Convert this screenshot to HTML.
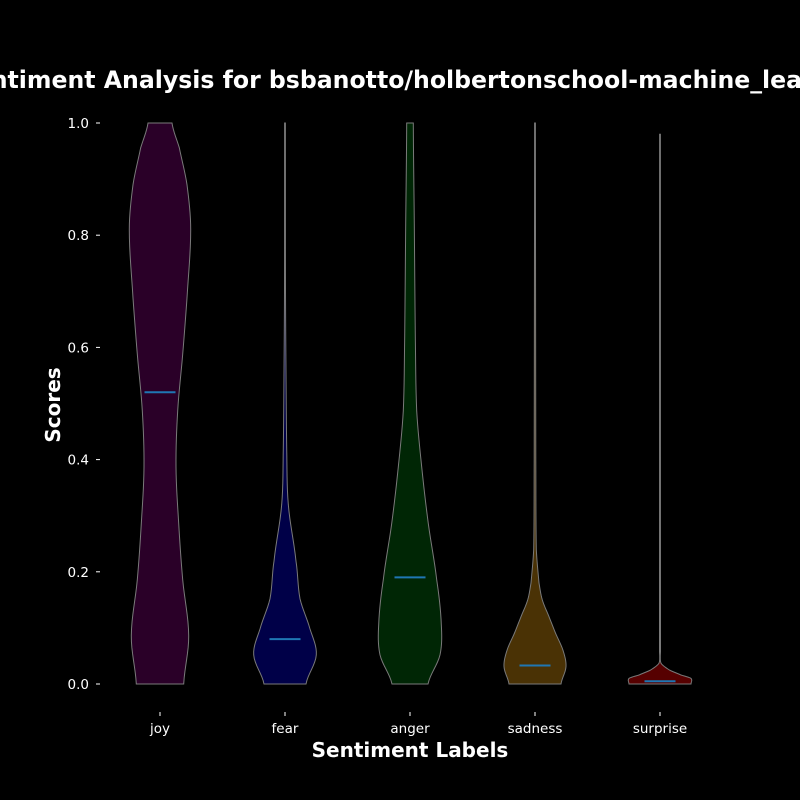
<!DOCTYPE html>
<html><head><meta charset="utf-8"><style>
html,body{margin:0;padding:0;background:#000;}
svg{display:block;font-family:"DejaVu Sans","Liberation Sans",sans-serif;}
</style></head><body>
<svg id="chart" width="800" height="800" viewBox="0 0 800 800">
<rect width="800" height="800" fill="#000"/>
<text x="415" y="88" text-anchor="middle" font-size="23.6" font-weight="bold" fill="#fff">Sentiment Analysis for bsbanotto/holbertonschool-machine_learning</text>
<text transform="translate(60,405) rotate(-90)" text-anchor="middle" font-size="20" font-weight="bold" fill="#fff">Scores</text>
<text x="410" y="757" text-anchor="middle" font-size="20" font-weight="bold" fill="#fff">Sentiment Labels</text>
<g id="axes"></g>
<g id="violins"></g>
</svg>
<script>
const categories = ["joy","fear","anger","sadness","surprise"];
const fills = ["#2a0028","#000048","#002605","#4a3205","#560000"];
const means = [0.52,0.08,0.19,0.033,0.005];
const yTicks = [0,0.2,0.4,0.6,0.8,1.0];
const yTickLabels = ["0.0","0.2","0.4","0.6","0.8","1.0"];
// density profiles: score levels and half-widths (relative px)
const joyV = [0,0.086,0.186,0.286,0.387,0.487,0.588,0.688,0.81,0.89,0.956,1.0];
const joyW = [23.7,28.7,22.7,18.7,16,17.7,22.7,27,30.7,27,19.3,12];
const fearV = [0,0.052,0.098,0.152,0.219,0.32,0.42,0.555,0.7,1.0];
const fearW = [21,31.3,25,15,11,3.3,1.7,1,0.5,0.4];
const angerV = [0,0.052,0.106,0.186,0.286,0.387,0.487,0.62,0.82,1.0];
const angerW = [18,30,31.3,26.7,18.3,11.7,6.7,5.3,4.3,3.3];
const sadV = [0,0.031,0.06,0.09,0.12,0.15,0.18,0.24,0.4,1.0];
const sadW = [26,31,28,20.7,14,7.3,4,1.3,0.8,0.4];
const surV = [0,0.01,0.016,0.025,0.037,0.06,0.98];
const surW = [31,31,21,9.3,1,0.5,0.4];
const profV = [joyV,fearV,angerV,sadV,surV];
const profW = [joyW,fearW,angerW,sadW,surW];

const y = v => 684 - 561*v;
const x = i => 160 + 125*i;
const NS="http://www.w3.org/2000/svg";
const axes=document.getElementById('axes');
yTicks.forEach((t,k)=>{
  const l=document.createElementNS(NS,'line');
  
  
  l.setAttribute('x1',96);l.setAttribute('x2',100);l.setAttribute('y1',y(t));l.setAttribute('y2',y(t));
  l.setAttribute('stroke','#fff');l.setAttribute('stroke-width','1');
  axes.appendChild(l);
  const tx=document.createElementNS(NS,'text');
  
  
  tx.setAttribute('x',89);tx.setAttribute('y',y(t)+5);tx.setAttribute('text-anchor','end');
  tx.setAttribute('font-size','13.5');tx.setAttribute('fill','#fff');tx.textContent=yTickLabels[k];
  axes.appendChild(tx);
});
categories.forEach((c,i)=>{
  const l=document.createElementNS(NS,'line');
  
  
  l.setAttribute('x1',x(i));l.setAttribute('x2',x(i));l.setAttribute('y1',712);l.setAttribute('y2',716);
  l.setAttribute('stroke','#fff');
  axes.appendChild(l);
  const tx=document.createElementNS(NS,'text');
  
  
  tx.setAttribute('x',x(i));tx.setAttribute('y',733);tx.setAttribute('text-anchor','middle');
  tx.setAttribute('font-size','13.5');tx.setAttribute('fill','#fff');tx.textContent=c;
  axes.appendChild(tx);
});
const vg=document.getElementById('violins');
categories.forEach((c,i)=>{
  const V=profV[i],W=profW[i],cx=x(i);
  const pts=[];
  for(let k=0;k<V.length-1;k++){
    for(let s=0;s<8;s++){
      const t=s/8;
      const p0=W[Math.max(k-1,0)],p1=W[k],p2=W[k+1],p3=W[Math.min(k+2,V.length-1)];
      const w=0.5*((2*p1)+(-p0+p2)*t+(2*p0-5*p1+4*p2-p3)*t*t+(-p0+3*p1-3*p2+p3)*t*t*t);
      pts.push([V[k]+(V[k+1]-V[k])*t,Math.max(w,0.3)]);
    }
  }
  pts.push([V[V.length-1],W[W.length-1]]);
  let d='M'+pts.map(p=>(cx-p[1]).toFixed(2)+','+y(p[0]).toFixed(2)).join(' L');
  d+=' L'+pts.slice().reverse().map(p=>(cx+p[1]).toFixed(2)+','+y(p[0]).toFixed(2)).join(' L')+' Z';
  const path=document.createElementNS(NS,'path');
  
  
  path.setAttribute('d',d);path.setAttribute('fill',fills[i]);
  path.setAttribute('stroke','#7a7a7a');path.setAttribute('stroke-width','1');
  vg.appendChild(path);
  const m=document.createElementNS(NS,'line');
  
  
  m.setAttribute('x1',cx-15.5);m.setAttribute('x2',cx+15.5);m.setAttribute('y1',y(means[i]));m.setAttribute('y2',y(means[i]));
  m.setAttribute('stroke','#1f77b4');m.setAttribute('stroke-width','2');
  vg.appendChild(m);
});
</script>
</body></html>
